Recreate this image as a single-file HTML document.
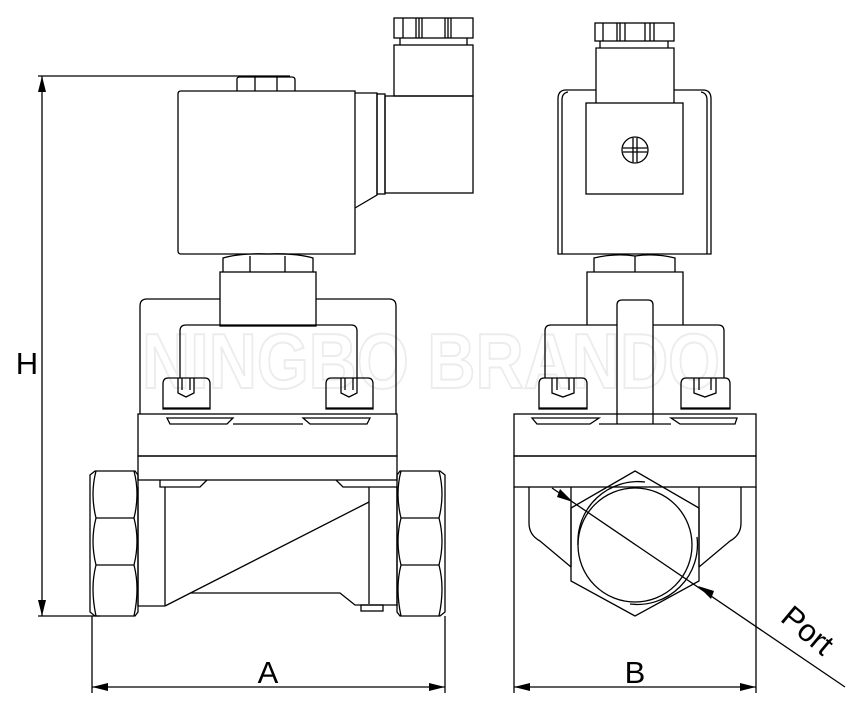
<!DOCTYPE html>
<html><head><meta charset="utf-8"><style>html,body{margin:0;padding:0;background:#fff}svg{display:block}</style></head>
<body>
<svg width="861" height="717" viewBox="0 0 861 717" xmlns="http://www.w3.org/2000/svg">
<text x="142" y="388" font-family="Liberation Sans Narrow, Liberation Sans, sans-serif" font-size="78" font-weight="bold" textLength="578" lengthAdjust="spacingAndGlyphs" fill="none" stroke="#ececec" stroke-width="2">NINGBO BRANDO</text>
<g fill="none" stroke="#000" stroke-width="1.3">
<line x1="38" y1="76" x2="290" y2="76"/>
<line x1="38" y1="616" x2="100" y2="616"/>
<line x1="42" y1="76" x2="42" y2="616"/>
<path d="M237 91 V79 Q237 77 240 77 H292 Q295 77 295 80 V91"/>
<line x1="255" y1="77" x2="255" y2="91"/><line x1="277" y1="77" x2="277" y2="91"/>
<path d="M181 91 H355 V254 H181 Q178 254 178 251 V94 Q178 91 181 91 Z"/>
<path d="M355 93 H377 V195 L355 208"/>
<rect x="377" y="94" width="8" height="100"/>
<rect x="385" y="96" width="88" height="97"/>
<rect x="394" y="45" width="79" height="51"/>
<rect x="394" y="18" width="79" height="20"/>
<line x1="400" y1="38" x2="400" y2="45"/><line x1="467" y1="38" x2="467" y2="45"/>
<line x1="403" y1="18" x2="403" y2="38"/><line x1="416" y1="18" x2="416" y2="38"/><line x1="419" y1="18" x2="419" y2="38"/><line x1="422" y1="18" x2="422" y2="38"/>
<line x1="445" y1="18" x2="445" y2="38"/><line x1="448" y1="18" x2="448" y2="38"/><line x1="451" y1="18" x2="451" y2="38"/>
<path d="M223 272 V258 Q240 253 268 254 Q296 253 313 258 V272"/>
<line x1="250" y1="256" x2="250" y2="272"/><line x1="285" y1="256" x2="285" y2="272"/>
<rect x="220" y="272" width="96" height="54"/>
<path d="M140 414 V306 Q140 299 147 299 H220 M316 299 H389 Q396 299 396 306 V414"/>
<path d="M180 378 V331 Q180 325 186 325 H351 Q357 325 357 331 V378"/>
<path d="M163 409 V384 Q163 378 168 378 H205 Q210 378 210 384 V409 Z"/>
<line x1="163" y1="408" x2="210" y2="408"/>
<path d="M178 378 V393 L186 397 L194 393 V378 M182 378 V390 M190 378 V390"/>
<path d="M167 418 H233 L227 424 H170 Z"/>
<path d="M326 409 V384 Q326 378 331 378 H368 Q373 378 373 384 V409 Z"/>
<line x1="326" y1="408" x2="373" y2="408"/>
<path d="M341 378 V393 L349 397 L357 393 V378 M345 378 V390 M353 378 V390"/>
<path d="M303 418 H370 L367 424 H310 Z"/>
<line x1="233" y1="424" x2="303" y2="424"/>
<rect x="138" y="414" width="259" height="42"/>
<rect x="138" y="456" width="259" height="24"/>
<path d="M160 480 V487 H200 L207 480 M336 480 L343 487 H397"/>
<line x1="138" y1="487" x2="138" y2="606"/><line x1="397" y1="487" x2="397" y2="606"/>
<line x1="165" y1="487" x2="165" y2="606"/><line x1="369" y1="487" x2="369" y2="604"/>
<line x1="138" y1="606" x2="165" y2="606"/>
<line x1="165" y1="606" x2="369" y2="502"/>
<path d="M190 593 H340 L355 605 H397"/>
<rect x="361" y="605" width="22" height="6"/>
<path d="M90 475 L95 471 H135 L138 475 V612 L135 616 H95 L90 612 Z"/>
<path d="M96 471 Q90 494 96 518 Q90 541 96 565 Q90 588 96 616"/>
<path d="M134 471 Q140 494 134 518 Q140 541 134 565 Q140 588 134 616"/>
<line x1="96" y1="518" x2="134" y2="518"/><line x1="96" y1="565" x2="134" y2="565"/>
<path d="M445 475 L440 471 H400 L397 475 V612 L400 616 H440 L445 612 Z"/>
<path d="M401 471 Q395 494 401 518 Q395 541 401 565 Q395 588 401 616"/>
<path d="M439 471 Q445 494 439 518 Q445 541 439 565 Q445 588 439 616"/>
<line x1="401" y1="518" x2="439" y2="518"/><line x1="401" y1="565" x2="439" y2="565"/>
<line x1="92" y1="616" x2="92" y2="693"/><line x1="445" y1="616" x2="445" y2="693"/>
<line x1="92" y1="687" x2="445" y2="687"/>
<line x1="514" y1="487" x2="514" y2="693"/><line x1="756" y1="487" x2="756" y2="693"/>
<line x1="514" y1="687" x2="756" y2="687"/>
<rect x="595" y="23" width="79" height="18"/>
<line x1="600" y1="41" x2="600" y2="48"/><line x1="668" y1="41" x2="668" y2="48"/>
<line x1="603" y1="23" x2="603" y2="41"/><line x1="617" y1="23" x2="617" y2="41"/><line x1="620" y1="23" x2="620" y2="41"/><line x1="625" y1="23" x2="625" y2="41"/>
<line x1="645" y1="23" x2="645" y2="41"/><line x1="650" y1="23" x2="650" y2="41"/><line x1="654" y1="23" x2="654" y2="41"/>
<path d="M596 103 V48 H674 V103"/>
<path d="M596 90 H566 Q558 90 558 99 V254 H711 V99 Q711 90 703 90 H674"/>
<path d="M562 254 V100 Q562 93 568 92 M707 254 V100 Q707 93 701 92"/>
<rect x="586" y="103" width="97" height="91"/>
<circle cx="635" cy="150" r="13"/>
<path d="M633 138 V162 M637 138 V162 M623 148 H647 M623 152 H647"/>
<path d="M594 272 V258 Q615 253 635 256 Q655 253 675 258 V272"/>
<line x1="635" y1="256" x2="635" y2="272"/>
<path d="M587 325 V272 H683 V325"/>
<path d="M545 378 V331 Q545 325 551 325 H617 M653 325 H718 Q724 325 724 331 V378"/>
<path d="M617 424 V305 Q617 300 622 300 H648 Q653 300 653 305 V424"/>
<path d="M539 409 V384 Q539 378 544 378 H582 Q587 378 587 384 V409 Z"/>
<line x1="539" y1="408" x2="587" y2="408"/>
<path d="M552 378 V393 L563 397 L574 393 V378 M557 378 V390 M569 378 V390"/>
<path d="M532 418 H599 L590 424 H537 Z"/>
<path d="M681 409 V384 Q681 378 686 378 H725 Q730 378 730 384 V409 Z"/>
<line x1="681" y1="408" x2="730" y2="408"/>
<path d="M694 378 V393 L705 397 L716 393 V378 M699 378 V390 M711 378 V390"/>
<path d="M671 418 H737 L735 424 H680 Z"/>
<line x1="599" y1="424" x2="671" y2="424"/>
<rect x="514" y="414" width="242" height="42"/>
<rect x="514" y="456" width="242" height="31"/>
<path d="M529 487 V523 Q529 535 540 541 L571 567 M571 487 V567"/>
<path d="M741 487 V523 Q741 535 730 541 L699 567 M699 487 V567"/>
<path d="M635 471 L699 508 V581 L635 616 L571 581 V508 Z"/>
<circle cx="635" cy="545" r="57"/>
<path d="M578 545 A60 60 0 0 1 645 482"/>
<path d="M697 537 A60 60 0 0 1 630 604"/>
<line x1="552" y1="488" x2="845" y2="687"/>
</g>
<g fill="#000" stroke="none">
<polygon points="42,76 38,92 46,92"/>
<polygon points="42,616 38,600 46,600"/>
<polygon points="92,687 108,683 108,691"/>
<polygon points="445,687 429,683 429,691"/>
<polygon points="514,687 530,683 530,691"/>
<polygon points="756,687 740,683 740,691"/>
<polygon points="573,502 560,489 557,497"/>
<polygon points="698,586 711,599 714,591"/>
</g>
<g font-family="Liberation Sans, sans-serif" fill="#000">
<text x="27" y="374" font-size="31" text-anchor="middle">H</text>
<text x="268" y="683" font-size="31" text-anchor="middle">A</text>
<text x="635" y="683" font-size="31" text-anchor="middle">B</text>
<text x="808" y="641" font-size="31" text-anchor="middle" transform="rotate(40 808 630)">Port</text>
</g>
</svg>
</body></html>
